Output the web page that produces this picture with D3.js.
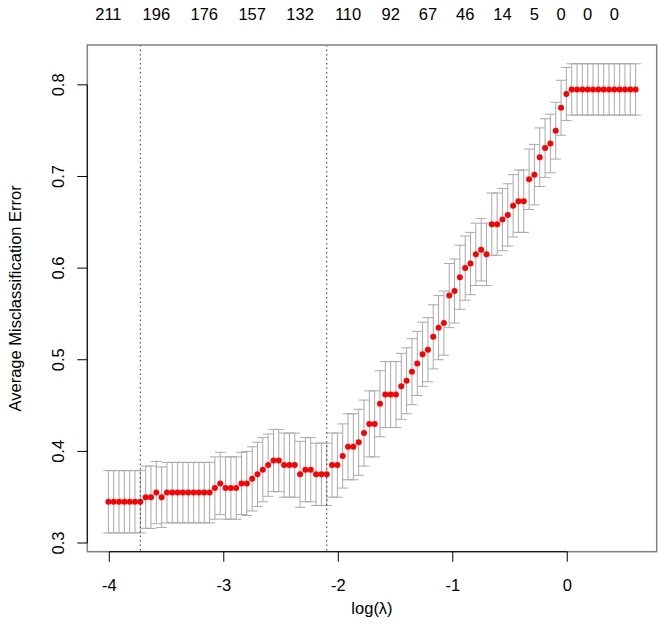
<!DOCTYPE html>
<meta charset="utf-8">
<style>
body { margin: 0; background: #fff; }
svg { font-family: "Liberation Sans", Arial, sans-serif; }
.bar { stroke: #a9a9a9; stroke-width: 1; }
.pt { fill: red; }
.cut { stroke: #333; stroke-dasharray: 1.5,3; }
.box { fill: none; stroke: #808080; stroke-width: 1.5; }
.ax { stroke: #000; stroke-width: 1; }
text { font-size: 16.5px; fill: #000; }
</style>
<svg></svg>
<script src="https://cdn.jsdelivr.net/npm/d3@7"></script>
<script>

var width = 664,
    height = 638;

// log(lambda) grid runs from the smallest to the largest lambda in 100 even steps (glmnet path)
var logLambdaMin = -4.008,
    logLambdaMax = 0.597,
    nLambda = 100;
var logLambda = d3.range(nLambda).map(function(i) {
  return logLambdaMin + i * (logLambdaMax - logLambdaMin) / (nLambda - 1);
});

// mean cross-validated misclassification error, ordered by increasing log(lambda)
var cvm = [
  0.345, 0.345, 0.345, 0.345, 0.345, 0.345, 0.345, 0.350, 0.350, 0.355,
  0.350, 0.355, 0.355, 0.355, 0.355, 0.355, 0.355, 0.355, 0.355, 0.355,
  0.360, 0.365, 0.360, 0.360, 0.360, 0.365, 0.365, 0.370, 0.375, 0.380,
  0.385, 0.390, 0.390, 0.385, 0.385, 0.385, 0.375, 0.380, 0.380, 0.375,
  0.375, 0.375, 0.385, 0.385, 0.395, 0.405, 0.405, 0.410, 0.420, 0.430,
  0.430, 0.452, 0.462, 0.462, 0.462, 0.471, 0.477, 0.487, 0.496, 0.506,
  0.511, 0.525, 0.535, 0.540, 0.570, 0.575, 0.590, 0.600, 0.605, 0.615,
  0.620, 0.615, 0.648, 0.648, 0.653, 0.658, 0.668, 0.673, 0.673, 0.697,
  0.702, 0.721, 0.731, 0.736, 0.750, 0.775, 0.790, 0.795, 0.795, 0.795,
  0.795, 0.795, 0.795, 0.795, 0.795, 0.795, 0.795, 0.795, 0.795, 0.795
];

// standard error of each mean
var cvsd = [
  0.034, 0.034, 0.034, 0.034, 0.034, 0.034, 0.034, 0.034, 0.034, 0.034,
  0.033, 0.033, 0.033, 0.033, 0.033, 0.033, 0.033, 0.033, 0.033, 0.033,
  0.034, 0.034, 0.034, 0.034, 0.034, 0.034, 0.035, 0.035, 0.035, 0.035,
  0.034, 0.034, 0.034, 0.035, 0.035, 0.035, 0.036, 0.035, 0.035, 0.034,
  0.034, 0.034, 0.035, 0.035, 0.035, 0.036, 0.036, 0.036, 0.036, 0.036,
  0.036, 0.036, 0.036, 0.036, 0.036, 0.036, 0.036, 0.036, 0.035, 0.035,
  0.035, 0.035, 0.035, 0.035, 0.035, 0.035, 0.035, 0.035, 0.034, 0.034,
  0.034, 0.034, 0.034, 0.034, 0.034, 0.034, 0.034, 0.034, 0.034, 0.033,
  0.033, 0.032, 0.032, 0.032, 0.031, 0.030, 0.029, 0.028, 0.028, 0.028,
  0.028, 0.028, 0.028, 0.028, 0.028, 0.028, 0.028, 0.028, 0.028, 0.028
];

// number of non-zero coefficients shown on the top axis, and the lambda index each sits at
var nzeroLabels = ["211", "196", "176", "157", "132", "110", "92", "67", "46", "14", "5", "0", "0", "0"];
var nzeroIndex = [0, 9, 18, 27, 36, 45, 53, 60, 67, 74, 80, 85, 90, 95];

var xTicks = [-4, -3, -2, -1, 0];
var yTicks = [0.3, 0.4, 0.5, 0.6, 0.7, 0.8];

var upper = cvm.map(function(d, i) { return d + cvsd[i]; }),
    lower = cvm.map(function(d, i) { return d - cvsd[i]; });

// R style 4% padding of the data range
function pad(ext) {
  var r = ext[1] - ext[0];
  return [ext[0] - 0.04 * r, ext[1] + 0.04 * r];
}

var plotL = 87.3, plotR = 656.7, plotT = 45, plotB = 551.7;

var x = d3.scaleLinear()
    .domain(pad(d3.extent(logLambda)))
    .range([plotL, plotR]);

var y = d3.scaleLinear()
    .domain(pad([d3.min(lower), d3.max(upper)]))
    .range([plotB, plotT]);

var svg = d3.select("svg")
    .attr("width", width)
    .attr("height", height);

// error bars
var barw = (d3.max(logLambda) - d3.min(logLambda)) * 0.01;
var bars = svg.append("g");
logLambda.forEach(function(l, i) {
  bars.append("line").attr("class", "bar")
      .attr("x1", x(l)).attr("x2", x(l))
      .attr("y1", y(upper[i])).attr("y2", y(lower[i]));
  [upper[i], lower[i]].forEach(function(v) {
    bars.append("line").attr("class", "bar")
        .attr("x1", x(l - barw)).attr("x2", x(l + barw))
        .attr("y1", y(v)).attr("y2", y(v));
  });
});

// points
svg.append("g").selectAll("circle")
    .data(cvm)
  .enter().append("circle")
    .attr("class", "pt")
    .attr("cx", function(d, i) { return x(logLambda[i]); })
    .attr("cy", function(d) { return y(d); })
    .attr("r", 3);

// lambda.min and lambda.1se
var minErr = d3.min(cvm), iMin = 0;
cvm.forEach(function(d, i) { if (d === minErr) iMin = i; });
var i1se = 0;
cvm.forEach(function(d, i) { if (d <= minErr + cvsd[iMin] + 1e-9) i1se = i; });

svg.selectAll(".cut")
    .data([iMin, i1se])
  .enter().append("line")
    .attr("class", "cut")
    .attr("x1", function(d) { return x(logLambda[d]); })
    .attr("x2", function(d) { return x(logLambda[d]); })
    .attr("y1", plotT)
    .attr("y2", plotB);

// box
svg.append("rect").attr("class", "box")
    .attr("x", plotL).attr("y", plotT)
    .attr("width", plotR - plotL).attr("height", plotB - plotT);

// bottom axis
var xa = svg.append("g");
xa.append("line").attr("class", "ax")
    .attr("x1", x(xTicks[0])).attr("x2", x(xTicks[xTicks.length - 1]))
    .attr("y1", plotB).attr("y2", plotB);
xa.selectAll(".tk").data(xTicks).enter().append("line").attr("class", "ax")
    .attr("x1", x).attr("x2", x)
    .attr("y1", plotB).attr("y2", plotB + 10);
xa.selectAll("text").data(xTicks).enter().append("text")
    .attr("x", x).attr("y", 591)
    .attr("text-anchor", "middle")
    .text(function(d) { return d; });

// left axis
var ya = svg.append("g");
ya.append("line").attr("class", "ax")
    .attr("x1", plotL).attr("x2", plotL)
    .attr("y1", y(yTicks[0])).attr("y2", y(yTicks[yTicks.length - 1]));
ya.selectAll(".tk").data(yTicks).enter().append("line").attr("class", "ax")
    .attr("x1", plotL - 10).attr("x2", plotL)
    .attr("y1", y).attr("y2", y);
ya.selectAll("text").data(yTicks).enter().append("text")
    .attr("transform", function(d) { return "translate(63.5," + y(d) + ") rotate(-90)"; })
    .attr("text-anchor", "middle")
    .text(d3.format(".1f"));

// top axis: non-zero counts
svg.append("g").selectAll("text")
    .data(nzeroLabels)
  .enter().append("text")
    .attr("x", function(d, i) { return x(logLambda[nzeroIndex[i]]); })
    .attr("y", 20)
    .attr("text-anchor", "middle")
    .text(function(d) { return d; });

// titles
svg.append("text")
    .attr("x", (plotL + plotR) / 2).attr("y", 614)
    .attr("text-anchor", "middle")
    .text("log(\u03bb)");

svg.append("text")
    .attr("transform", "translate(21," + (plotT + plotB) / 2 + ") rotate(-90)")
    .attr("text-anchor", "middle")
    .text("Average Misclassification Error");

</script>
